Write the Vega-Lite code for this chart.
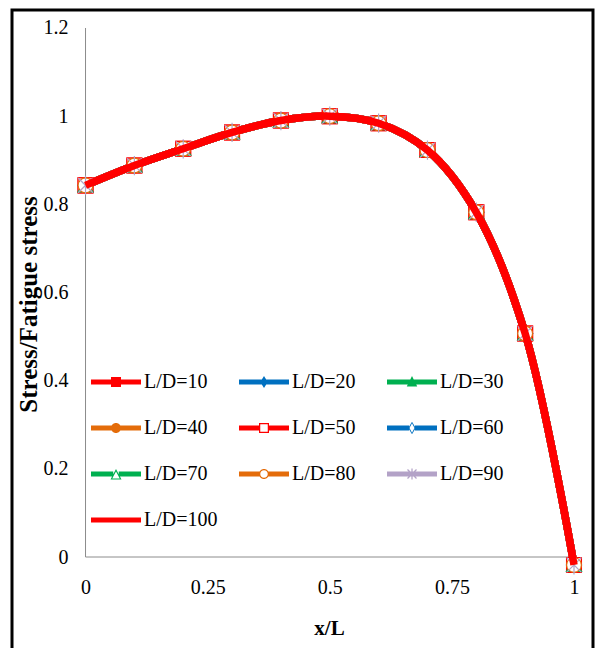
{
  "$schema": "https://vega.github.io/schema/vega-lite/v6.json",
  "width": 581,
  "height": 645,
  "padding": {"left": 12, "top": 10, "right": 2, "bottom": 0},
  "autosize": {"type": "none"},
  "background": "white",
  "config": {"view": {"stroke": "#000000", "strokeWidth": 3}, "font": "Liberation Serif"},
  "data": {"values": [
    {"x": 0.0, "L/D=10": 0.843, "L/D=20": 0.843, "L/D=30": 0.843, "L/D=40": 0.843, "L/D=50": 0.843, "L/D=60": 0.843, "L/D=70": 0.843, "L/D=80": 0.843, "L/D=90": 0.843, "L/D=100": 0.843},
    {"x": 0.1, "L/D=10": 0.888, "L/D=20": 0.888, "L/D=30": 0.888, "L/D=40": 0.888, "L/D=50": 0.888, "L/D=60": 0.888, "L/D=70": 0.888, "L/D=80": 0.888, "L/D=90": 0.888, "L/D=100": 0.888},
    {"x": 0.2, "L/D=10": 0.926, "L/D=20": 0.926, "L/D=30": 0.926, "L/D=40": 0.926, "L/D=50": 0.926, "L/D=60": 0.926, "L/D=70": 0.926, "L/D=80": 0.926, "L/D=90": 0.926, "L/D=100": 0.926},
    {"x": 0.3, "L/D=10": 0.963, "L/D=20": 0.963, "L/D=30": 0.963, "L/D=40": 0.963, "L/D=50": 0.963, "L/D=60": 0.963, "L/D=70": 0.963, "L/D=80": 0.963, "L/D=90": 0.963, "L/D=100": 0.963},
    {"x": 0.4, "L/D=10": 0.990, "L/D=20": 0.990, "L/D=30": 0.990, "L/D=40": 0.990, "L/D=50": 0.990, "L/D=60": 0.990, "L/D=70": 0.990, "L/D=80": 0.990, "L/D=90": 0.990, "L/D=100": 0.990},
    {"x": 0.5, "L/D=10": 1.0, "L/D=20": 1.0, "L/D=30": 1.0, "L/D=40": 1.0, "L/D=50": 1.0, "L/D=60": 1.0, "L/D=70": 1.0, "L/D=80": 1.0, "L/D=90": 1.0, "L/D=100": 1.0},
    {"x": 0.6, "L/D=10": 0.984, "L/D=20": 0.984, "L/D=30": 0.984, "L/D=40": 0.984, "L/D=50": 0.984, "L/D=60": 0.984, "L/D=70": 0.984, "L/D=80": 0.984, "L/D=90": 0.984, "L/D=100": 0.984},
    {"x": 0.7, "L/D=10": 0.923, "L/D=20": 0.923, "L/D=30": 0.923, "L/D=40": 0.923, "L/D=50": 0.923, "L/D=60": 0.923, "L/D=70": 0.923, "L/D=80": 0.923, "L/D=90": 0.923, "L/D=100": 0.923},
    {"x": 0.8, "L/D=10": 0.782, "L/D=20": 0.782, "L/D=30": 0.782, "L/D=40": 0.782, "L/D=50": 0.782, "L/D=60": 0.782, "L/D=70": 0.782, "L/D=80": 0.782, "L/D=90": 0.782, "L/D=100": 0.782},
    {"x": 0.9, "L/D=10": 0.507, "L/D=20": 0.507, "L/D=30": 0.507, "L/D=40": 0.507, "L/D=50": 0.507, "L/D=60": 0.507, "L/D=70": 0.507, "L/D=80": 0.507, "L/D=90": 0.507, "L/D=100": 0.507},
    {"x": 1.0, "L/D=10": -0.018, "L/D=20": -0.018, "L/D=30": -0.018, "L/D=40": -0.018, "L/D=50": -0.018, "L/D=60": -0.018, "L/D=70": -0.018, "L/D=80": -0.018, "L/D=90": -0.018, "L/D=100": -0.018}
  ]},
  "layer": [
    {
      "data": {"values": [{}]},
      "mark": {"type": "rule", "color": "#8c8c8c", "strokeWidth": 1},
      "encoding": {
        "x": {"datum": 0, "type": "quantitative", "scale": {"domain": [-0.1505, 1.0389], "nice": false, "zero": false},
          "axis": {"values": [0, 0.25, 0.5, 0.75, 1], "format": ".2~f", "domain": false, "ticks": false, "tickSize": 0, "grid": false, "offset": -98, "labelPadding": 20, "labelFont": "Liberation Serif", "labelFontSize": 20, "labelColor": "#000000", "labelFlush": false, "labelOverlap": false,
            "title": "x/L", "titleFont": "Liberation Serif", "titleFontSize": 21, "titleFontWeight": "bold", "titleColor": "#000000", "titleX": 317, "titleY": 71, "titleBaseline": "middle"}},
        "x2": {"datum": 1},
        "y": {"datum": 0, "type": "quantitative", "scale": {"domain": [-0.2223, 1.2408], "nice": false, "zero": false},
          "axis": {"values": [0, 0.2, 0.4, 0.6, 0.8, 1, 1.2], "format": ".1~f", "domain": false, "ticks": false, "tickSize": 0, "grid": false, "offset": -73.5, "labelPadding": 17.5, "labelFont": "Liberation Serif", "labelFontSize": 20, "labelColor": "#000000", "labelFlush": false, "labelOverlap": false,
            "title": "Stress/Fatigue stress", "titleFont": "Liberation Serif", "titleFontSize": 25, "titleFontWeight": "bold", "titleColor": "#000000", "titleX": -57, "titleY": 294, "titleBaseline": "middle", "titleAngle": 270}}
      }
    },
    {
      "data": {"values": [{}]},
      "mark": {"type": "rule", "color": "#8c8c8c", "strokeWidth": 1},
      "encoding": {
        "x": {"datum": 0, "type": "quantitative"},
        "y": {"datum": 0, "type": "quantitative"},
        "y2": {"datum": 1.2}
      }
    },
    {
      "transform": [{"fold": ["L/D=10", "L/D=20", "L/D=30", "L/D=40", "L/D=50", "L/D=60", "L/D=70", "L/D=80", "L/D=90", "L/D=100"], "as": ["series", "value"]}],
      "mark": {"type": "line", "interpolate": "catmull-rom", "strokeWidth": 7.5},
      "encoding": {
        "x": {"field": "x", "type": "quantitative"},
        "y": {"field": "value", "type": "quantitative"},
        "color": {"field": "series", "type": "nominal",
          "scale": {"domain": ["L/D=10", "L/D=20", "L/D=30", "L/D=40", "L/D=50", "L/D=60", "L/D=70", "L/D=80", "L/D=90", "L/D=100"],
                    "range": ["#FF0000", "#0070C0", "#00B050", "#E46C0A", "#FF0000", "#0070C0", "#00B050", "#E46C0A", "#B3A2C7", "#FF0000"]},
          "legend": {"orient": "none", "direction": "horizontal", "legendX": 79, "legendY": 347, "columns": 3, "gridAlign": "all", "columnPadding": 21, "rowPadding": 11, "title": null, "padding": 0,
            "symbolSize": 2500, "labelOffset": 3, "labelFont": "Liberation Serif", "labelFontSize": 20, "labelColor": "#000000", "labelLimit": 200,
            "encode": {"symbols": {"update": {
              "fill": {"scale": "color", "field": "value"},
              "stroke": {"value": "transparent"},
              "strokeWidth": {"value": 0},
              "opacity": {"value": 1},
              "shape": {"signal": "datum.value==='L/D=10'?'M-1,-0.1H1V0.1H-1ZM-0.2,-0.2H0.2V0.2H-0.2Z':datum.value==='L/D=20'?'M-1,-0.1H1V0.1H-1ZM0,-0.24L0.15,0L0,0.24L-0.15,0Z':datum.value==='L/D=30'?'M-1,-0.1H1V0.1H-1ZM0,-0.24L0.21,0.18L-0.21,0.18Z':datum.value==='L/D=40'?'M-1,-0.1H1V0.1H-1ZM-0.2,0A0.2,0.2,0,1,1,0.2,0A0.2,0.2,0,1,1,-0.2,0Z':datum.value==='L/D=50'?'M-1,-0.1H-0.2V0.1H-1ZM0.2,-0.1H1V0.1H0.2ZM-0.2,-0.2H0.2V0.2H-0.2ZM-0.15,-0.15V0.15H0.15V-0.15Z':datum.value==='L/D=60'?'M-1,-0.1H-0.12V0.1H-1ZM0.12,-0.1H1V0.1H0.12ZM0,-0.25L0.15,0L0,0.25L-0.15,0ZM0,-0.19L-0.1,0L0,0.19L0.1,0Z':datum.value==='L/D=70'?'M-1,-0.1H-0.11V0.1H-1ZM0.11,-0.1H1V0.1H0.11ZM0,-0.2L0.22,0.22L-0.22,0.22ZM0,-0.1L-0.15,0.175L0.15,0.175Z':datum.value==='L/D=80'?'M-1,-0.1H-0.17V0.1H-1ZM0.17,-0.1H1V0.1H0.17ZM-0.2,0A0.2,0.2,0,1,1,0.2,0A0.2,0.2,0,1,1,-0.2,0ZM-0.15,0A0.15,0.15,0,1,0,0.15,0A0.15,0.15,0,1,0,-0.15,0Z':datum.value==='L/D=90'?'M-1,-0.1H1V0.1H-1ZM-0.025,-0.22H0.025V0.22H-0.025ZM-0.162,-0.198L0.198,0.162L0.162,0.198L-0.198,-0.162ZM0.198,-0.162L-0.162,0.198L-0.198,0.162L0.162,-0.198Z':'M-1,-0.1H1V0.1H-1Z'"}
            }}}}
        }
      }
    },
    {
      "transform": [
        {"fold": ["L/D=10", "L/D=20", "L/D=30", "L/D=40", "L/D=50", "L/D=60", "L/D=70", "L/D=80", "L/D=90", "L/D=100"], "as": ["series", "value"]},
        {"filter": "datum.series !== 'L/D=100'"}
      ],
      "mark": {"type": "point", "size": 220, "strokeWidth": 1.2, "opacity": 1},
      "encoding": {
        "x": {"field": "x", "type": "quantitative"},
        "y": {"field": "value", "type": "quantitative"},
        "shape": {"field": "series", "type": "nominal", "legend": null,
          "scale": {"domain": ["L/D=10", "L/D=20", "L/D=30", "L/D=40", "L/D=50", "L/D=60", "L/D=70", "L/D=80", "L/D=90"],
                    "range": ["square", "diamond", "triangle-up", "circle", "square", "diamond", "triangle-up", "circle", "M-1,-1L1,1M1,-1L-1,1M0,-1.3L0,1.3"]}},
        "fill": {"field": "series", "type": "nominal", "legend": null,
          "scale": {"domain": ["L/D=10", "L/D=20", "L/D=30", "L/D=40", "L/D=50", "L/D=60", "L/D=70", "L/D=80", "L/D=90"],
                    "range": ["#FF0000", "#0070C0", "#00B050", "#E46C0A", "#FFFFFF", "#FFFFFF", "#FFFFFF", "#FFFFFF", "transparent"]}},
        "stroke": {"field": "series", "type": "nominal", "legend": null,
          "scale": {"domain": ["L/D=10", "L/D=20", "L/D=30", "L/D=40", "L/D=50", "L/D=60", "L/D=70", "L/D=80", "L/D=90"],
                    "range": ["#FF0000", "#0070C0", "#00B050", "#E46C0A", "#FF0000", "#0070C0", "#00B050", "#E46C0A", "#B3A2C7"]}}
      }
    },
    {
      "transform": [
        {"fold": ["L/D=100"], "as": ["series", "value"]}
      ],
      "mark": {"type": "line", "interpolate": "catmull-rom", "strokeWidth": 7.5, "color": "#FF0000"},
      "encoding": {
        "x": {"field": "x", "type": "quantitative"},
        "y": {"field": "value", "type": "quantitative"}
      }
    }
  ]
}
